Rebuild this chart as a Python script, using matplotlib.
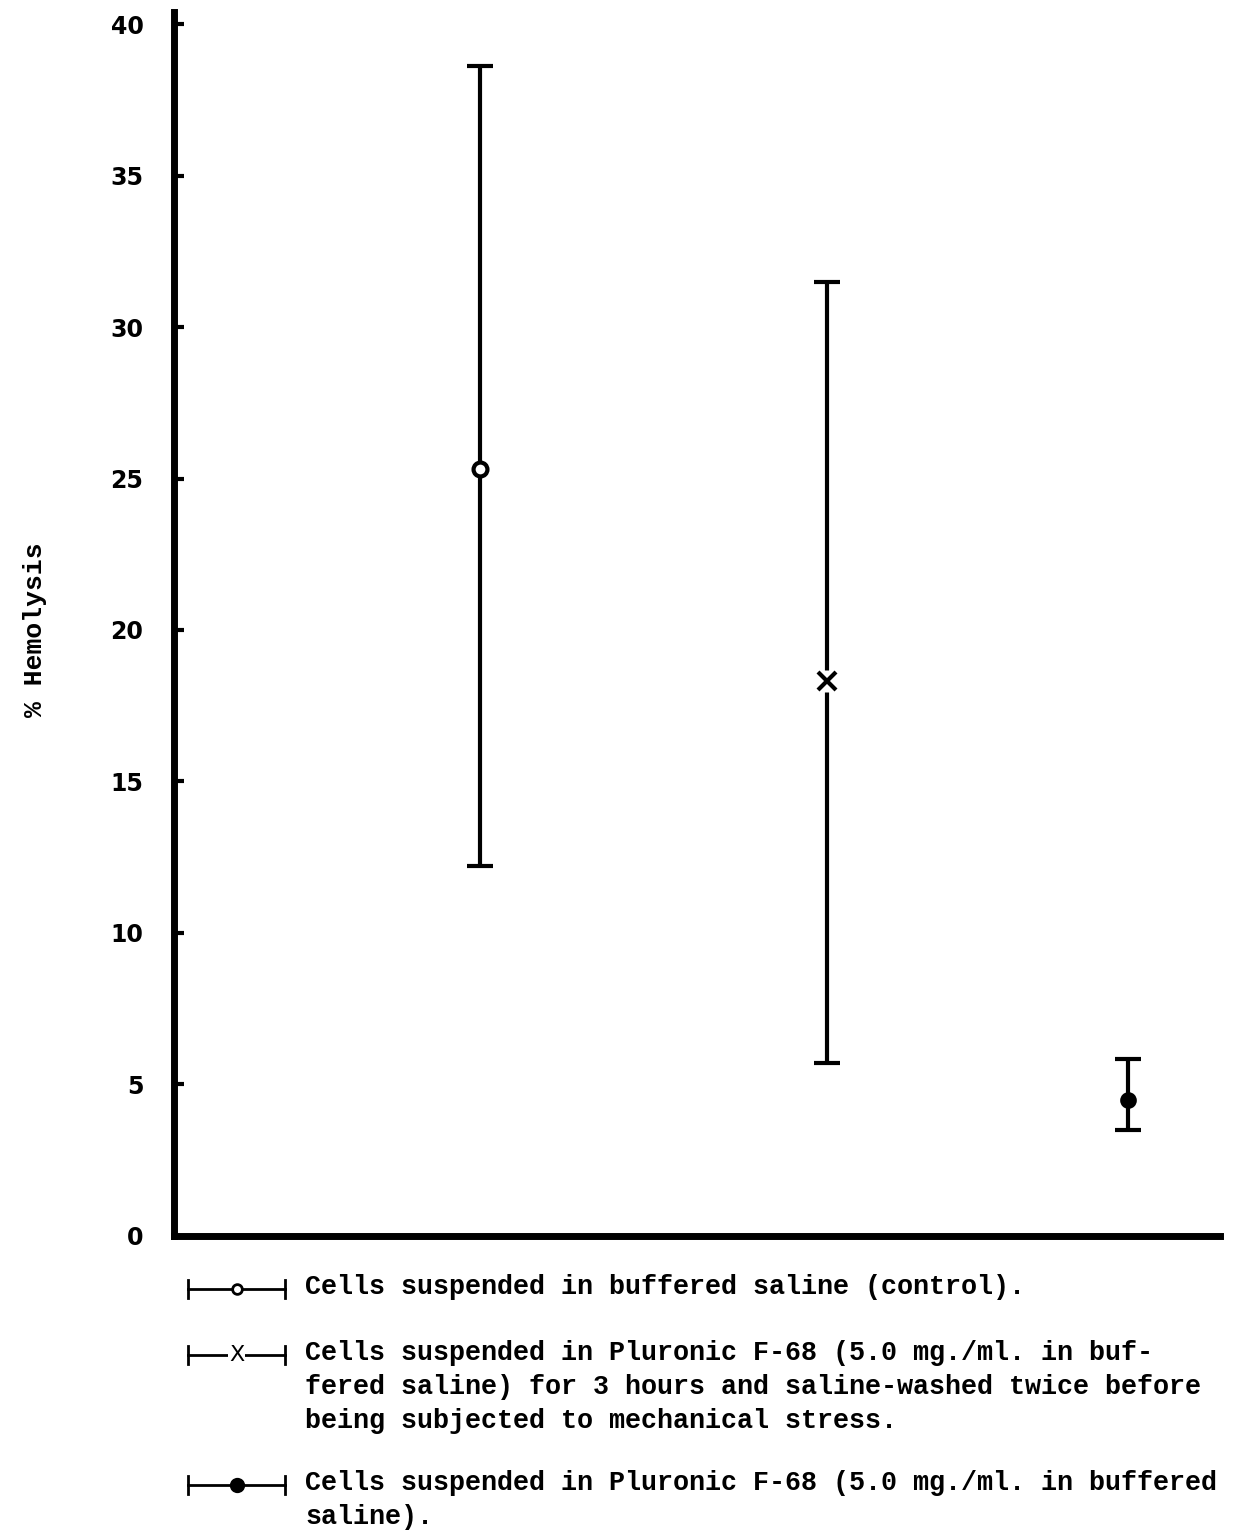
import matplotlib
matplotlib.use('Agg')
import matplotlib.pyplot as plt
from matplotlib.lines import Line2D

# values (% hemolysis)
groups = ['control', 'F-68 washed', 'F-68']
x_pos = [2.93, 6.24, 9.12]
means = [25.3, 18.3, 4.5]
upper = [38.6, 31.5, 5.85]
lower = [12.2, 5.7, 3.5]
markers = ['o', 'x', 'o']
fills = ['white', 'black', 'black']
msizes = [10, 13, 9]

yticks = [0, 5, 10, 15, 20, 25, 30, 35, 40]

legend_texts = [
    "Cells suspended in buffered saline (control).",
    "Cells suspended in Pluronic F-68 (5.0 mg./ml. in buf-\n"
    "fered saline) for 3 hours and saline-washed twice before\n"
    "being subjected to mechanical stress.",
    "Cells suspended in Pluronic F-68 (5.0 mg./ml. in buffered\n"
    "saline).",
]

mono = 'Liberation Mono'

fig = plt.figure(figsize=(12.37, 15.30), dpi=100)
ax = fig.add_axes([0.1407, 0.1922, 0.8453, 0.8000])

for i in range(len(groups)):
    err = [[means[i] - lower[i]], [upper[i] - means[i]]]
    ax.errorbar(x_pos[i], means[i], yerr=err, fmt='none', ecolor='black',
                elinewidth=3, capsize=9.5, capthick=3)
    if markers[i] == 'x':
        # small gap in the bar around the cross
        ax.plot(x_pos[i], means[i], marker='s', markersize=16,
                markerfacecolor='white', markeredgecolor='none',
                linestyle='none', zorder=4)
    ax.plot(x_pos[i], means[i], marker=markers[i], markersize=msizes[i],
            markerfacecolor=fills[i], markeredgecolor='black',
            markeredgewidth=3, linestyle='none', zorder=5)

ax.set_xlim(0, 10)
ax.set_ylim(0.3, 40.4)
ax.set_yticks(yticks)
ax.set_yticklabels([str(t) for t in yticks], fontsize=17,
                   family='DejaVu Sans', fontweight='bold')
ax.set_xticks([])
ax.tick_params(axis='y', direction='in', length=7, width=3, pad=22)

for s in ['top', 'right']:
    ax.spines[s].set_visible(False)
for s in ['left', 'bottom']:
    ax.spines[s].set_linewidth(5)

fig.text(0.028, 1 - 630 / 1530, '% Hemolysis', rotation=90, ha='center',
         va='center', fontsize=19, family=mono, fontweight='bold')

# legend drawn below the axes
leg_y = [1289, 1355, 1485]
for k, y in enumerate(leg_y):
    fy = 1 - y / 1530
    x0, x1 = 188 / 1237, 285 / 1237
    fig.add_artist(Line2D([x0, x1], [fy, fy], color='black', lw=2))
    for xe in (x0, x1):
        fig.add_artist(Line2D([xe, xe], [fy - 0.006, fy + 0.006],
                              color='black', lw=2))
    xm = (x0 + x1) / 2
    if k == 1:
        fig.text(xm, fy, 'X', ha='center', va='center', fontsize=16,
                 family='DejaVu Sans',
                 bbox=dict(facecolor='white', edgecolor='none', pad=1))
    else:
        fig.add_artist(Line2D([xm], [fy], marker='o', markersize=7 if k == 0 else 9,
                              markerfacecolor=fills[k], markeredgecolor='black',
                              markeredgewidth=2))
    fig.text(305 / 1237, fy + 0.0095, legend_texts[k], ha='left', va='top',
             fontsize=19.3, family=mono, fontweight='bold', linespacing=1.4)

fig.savefig('out.png', dpi=100)
